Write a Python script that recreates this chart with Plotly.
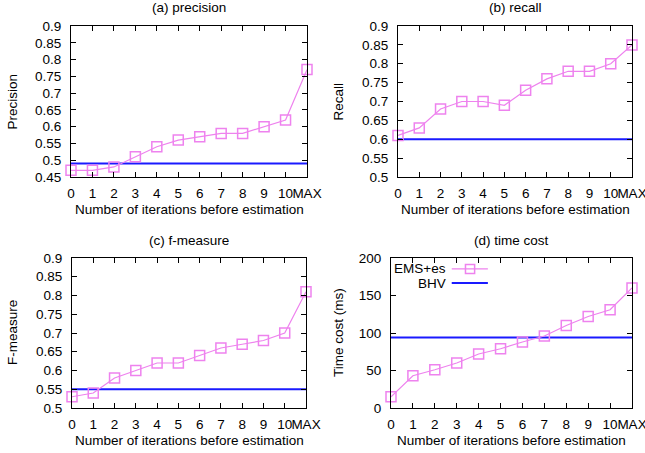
import plotly.graph_objects as go

# x categories (iterations before estimation)
iterations = ["0", "1", "2", "3", "4", "5", "6", "7", "8", "9", "10", "MAX"]

# EMS+es series
precision_ems = [0.47, 0.47, 0.48, 0.51, 0.54, 0.56, 0.57, 0.58, 0.58, 0.60, 0.62, 0.77]
recall_ems = [0.61, 0.63, 0.68, 0.70, 0.70, 0.69, 0.73, 0.76, 0.78, 0.78, 0.80, 0.85]
fmeasure_ems = [0.53, 0.54, 0.58, 0.60, 0.62, 0.62, 0.64, 0.66, 0.67, 0.68, 0.70, 0.81]
time_ems = [15, 43, 51, 60, 72, 79, 88, 96, 110, 122, 131, 160]

# BHV baseline (constant)
precision_bhv = 0.49
recall_bhv = 0.60
fmeasure_bhv = 0.55
time_bhv = 94

# y tick labels
ticks_prec = ["0.45", "0.5", "0.55", "0.6", "0.65", "0.7", "0.75", "0.8", "0.85", "0.9"]
ticks_rate = ["0.5", "0.55", "0.6", "0.65", "0.7", "0.75", "0.8", "0.85", "0.9"]
ticks_time = ["0", "50", "100", "150", "200"]

W, H = 645, 453
FONT = "Liberation Sans, Arial, Helvetica, sans-serif"
FS = 13.5
EMS_COLOR = "#ee82ee"
BHV_COLOR = "#1a1aff"

def px_x(p):
    return p / W

def px_y(p):
    return 1 - p / H

# (title, ytitle, ems, bhv, ticks, yrange, x-domain px, y-domain px, ytitle x px)
panels = [
    ("(a) precision", "Precision", precision_ems, precision_bhv, ticks_prec, [0.45, 0.9], (71, 307), (26, 177), 12),
    ("(b) recall", "Recall", recall_ems, recall_bhv, ticks_rate, [0.5, 0.9], (398, 632), (26, 177), 338),
    ("(c) f-measure", "F-measure", fmeasure_ems, fmeasure_bhv, ticks_rate, [0.5, 0.9], (72, 306), (258, 408), 12),
    ("(d) time cost", "Time cost (ms)", time_ems, time_bhv, ticks_time, [0, 200], (391, 632), (258, 408), 338),
]

fig = go.Figure()
annotations = []
xs = list(range(len(iterations)))

for i, (title, ytitle, ems, bhv, yticks, yrange, xd, yd, ytx) in enumerate(panels, start=1):
    sfx = "" if i == 1 else str(i)
    fig.add_trace(go.Scatter(
        x=xs, y=[bhv] * len(xs), mode="lines", name="BHV",
        line=dict(color=BHV_COLOR, width=2), showlegend=False,
        xaxis="x" + sfx, yaxis="y" + sfx,
    ))
    fig.add_trace(go.Scatter(
        x=xs, y=ems, mode="lines+markers", name="EMS+es",
        line=dict(color=EMS_COLOR, width=1.2),
        marker=dict(symbol="square-open", size=10, color=EMS_COLOR, line=dict(width=1.5)),
        cliponaxis=False, showlegend=False,
        xaxis="x" + sfx, yaxis="y" + sfx,
    ))
    axis_common = dict(
        showline=True, linecolor="black", linewidth=1, mirror="ticks",
        ticks="inside", ticklen=5, tickcolor="black", tickwidth=1,
        showgrid=False, zeroline=False, tickangle=0, automargin=False,
        ticklabeloverflow="allow",
        tickfont=dict(family=FONT, size=FS, color="black"),
    )
    fig.update_layout(**{
        "xaxis" + sfx: dict(
            domain=[px_x(xd[0]), px_x(xd[1])], range=[0, len(xs) - 1],
            tickvals=xs, ticktext=iterations, anchor="y" + sfx,
            ticklabelstandoff=4, **axis_common),
        "yaxis" + sfx: dict(
            domain=[px_y(yd[1]), px_y(yd[0])], range=yrange,
            tickvals=[float(t) for t in yticks], ticktext=yticks, anchor="x" + sfx,
            ticklabelstandoff=6, **axis_common),
    })
    xc = px_x((xd[0] + xd[1]) / 2)
    annotations.append(dict(text=title, x=xc, y=px_y(yd[0] - 18), xref="paper", yref="paper",
                            showarrow=False, xanchor="center", yanchor="middle",
                            font=dict(family=FONT, size=FS, color="black")))
    annotations.append(dict(text="Number of iterations before estimation", x=xc, y=px_y(yd[1] + 32),
                            xref="paper", yref="paper", showarrow=False,
                            xanchor="center", yanchor="middle",
                            font=dict(family=FONT, size=FS, color="black")))
    annotations.append(dict(text=ytitle, x=px_x(ytx), y=px_y((yd[0] + yd[1]) / 2),
                            xref="paper", yref="paper", showarrow=False, textangle=-90,
                            xanchor="center", yanchor="middle",
                            font=dict(family=FONT, size=FS, color="black")))

# legend drawn inside panel (d), gnuplot style: text then sample
legend_rows = [("EMS+es", EMS_COLOR, 0.927, True), ("BHV", BHV_COLOR, 0.833, False)]
shapes = []
for label, color, yy, with_marker in legend_rows:
    annotations.append(dict(text=label, x=0.238, y=yy, xref="x4 domain", yref="y4 domain",
                            showarrow=False, xanchor="right", yanchor="middle",
                            font=dict(family=FONT, size=FS, color="black")))
    shapes.append(dict(type="line", xref="x4 domain", yref="y4 domain",
                       x0=0.252, x1=0.402, y0=yy, y1=yy,
                       line=dict(color=color, width=1.2 if with_marker else 2)))
    if with_marker:
        shapes.append(dict(type="rect", xref="x4 domain", yref="y4 domain",
                           x0=0.328 - 0.019, x1=0.328 + 0.019, y0=yy - 0.03, y1=yy + 0.03,
                           line=dict(color=color, width=1.5)))

fig.update_layout(
    width=W, height=H,
    margin=dict(l=0, r=0, t=0, b=0, autoexpand=False),
    paper_bgcolor="white", plot_bgcolor="white",
    annotations=annotations, shapes=shapes,
    showlegend=False,
)

# drop the browser's default 8px body margin so the figure sits at the page corner
fig.write_html("out.html", config={"displayModeBar": False},
               post_script="document.body.style.margin = '0';")
